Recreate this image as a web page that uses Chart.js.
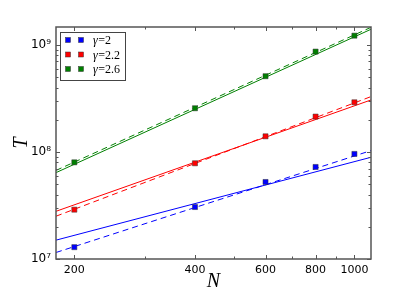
<!DOCTYPE html>
<html><head><meta charset="utf-8">
<script src="https://cdn.jsdelivr.net/npm/chart.js@4/dist/chart.umd.min.js"></script>
<style>html,body{margin:0;padding:0;background:#fff}canvas{display:block}</style>
</head><body>
<canvas id="c" width="399" height="299"></canvas>
<script>
// ---- data ----
const categories = [200, 400, 600, 800, 1000];
const tGamma2  = [1.29e7, 3.06e7, 5.24e7, 7.24e7, 9.58e7];
const tGamma22 = [2.89e7, 7.84e7, 1.40e8, 2.14e8, 2.91e8];
const tGamma26 = [8.0e7, 2.56e8, 5.1e8, 8.66e8, 1.22e9];
// fit lines: values at the two ends of the N range
const fitN = [180, 1100];
const fit2Solid  = [1.50e7, 8.92e7];
const fit2Dashed = [1.15e7, 1.03e8];
const fit22Solid  = [2.79e7, 3.06e8];
const fit22Dashed = [2.51e7, 3.29e8];
const fit26Solid  = [6.41e7, 1.40e9];
const fit26Dashed = [6.72e7, 1.46e9];
const xTicks = [200, 400, 600, 800, 1000];
const yTicks = [1e7, 1e8, 1e9];
const yTickLabels = ['10\u2077', '10\u2078', '10\u2079'];
const seriesLabels = ['2', '2.2', '2.6'];
const colors = ['#0000ff', '#ff0000', '#008000'];

const pts = arr => categories.map((n, i) => ({x: n, y: arr[i]}));
const line = arr => fitN.map((n, i) => ({x: n, y: arr[i]}));

function lineDs(arr, color, dashed) {
  return {type: 'line', data: line(arr), borderColor: color, borderWidth: 1,
    borderDash: dashed ? [6, 4] : [], pointRadius: 0, fill: false, tension: 0, order: 2};
}
function ptDs(arr, color, label) {
  return {type: 'scatter', label: '\u03b3=' + label, data: pts(arr), backgroundColor: color,
    borderColor: '#333', borderWidth: 0.5, pointStyle: 'rect', pointRadius: 3.6, order: 1};
}

const frameAndTicks = {
  id: 'frameAndTicks',
  afterDatasetsDraw(chart) {
    const ctx = chart.ctx, a = chart.chartArea;
    const xs = chart.scales.x, ys = chart.scales.y;
    ctx.save();
    ctx.strokeStyle = '#555';
    ctx.lineWidth = 1;
    const xMinor = [300, 500, 700, 900];
    const drawX = (v, len) => {
      const p = Math.round(xs.getPixelForValue(v)) + 0.5;
      ctx.beginPath();
      ctx.moveTo(p, a.bottom); ctx.lineTo(p, a.bottom - len);
      ctx.moveTo(p, a.top); ctx.lineTo(p, a.top + len);
      ctx.stroke();
    };
    xTicks.forEach(v => drawX(v, 4));
    xMinor.forEach(v => drawX(v, 2.5));
    const drawY = (v, len) => {
      const p = Math.round(ys.getPixelForValue(v)) + 0.5;
      ctx.beginPath();
      ctx.moveTo(a.left, p); ctx.lineTo(a.left + len, p);
      ctx.moveTo(a.right, p); ctx.lineTo(a.right - len, p);
      ctx.stroke();
    };
    yTicks.forEach(v => drawY(v, 4));
    [1e7, 1e8, 1e9].forEach(d => { for (let k = 2; k <= 9; k++) { const v = d * k; if (v <= ys.max) drawY(v, 2.5); } });
    // frame
    ctx.lineWidth = 1.5;
    ctx.strokeStyle = '#555';
    ctx.strokeRect(a.left, a.top, a.right - a.left, a.bottom - a.top);
    // axis titles
    ctx.fillStyle = '#000';
    ctx.font = 'italic 20px "Liberation Serif", "DejaVu Serif", serif';
    ctx.textAlign = 'center'; ctx.textBaseline = 'middle';
    ctx.fillText('N', (a.left + a.right) / 2, 282);
    ctx.save();
    ctx.translate(22, (a.top + a.bottom) / 2);
    ctx.rotate(-Math.PI / 2);
    ctx.fillText('T', 0, 0);
    ctx.restore();
    // legend
    const lx = 60.5, ly = 32.5, lw = 65, lh = 48;
    ctx.fillStyle = '#fff';
    ctx.fillRect(lx, ly, lw, lh);
    ctx.lineWidth = 1;
    ctx.strokeStyle = '#444';
    ctx.strokeRect(lx, ly, lw, lh);
    const rows = [40, 54.5, 69];
    ctx.textAlign = 'left';
    seriesLabels.forEach((lab, i) => {
      [68, 81].forEach(mx => {
        ctx.fillStyle = colors[i];
        ctx.fillRect(mx - 2.5, rows[i] - 2.5, 5, 5);
        ctx.lineWidth = 0.5; ctx.strokeStyle = '#333';
        ctx.strokeRect(mx - 2.5, rows[i] - 2.5, 5, 5);
      });
      ctx.fillStyle = '#000';
      ctx.font = 'italic 12px "Liberation Serif", "DejaVu Serif", serif';
      ctx.fillText('\u03b3', 93, rows[i] + 1);
      const gw = ctx.measureText('\u03b3').width;
      ctx.font = '12px "Liberation Serif", "DejaVu Serif", serif';
      ctx.fillText('=' + lab, 93 + gw + 0.5, rows[i] + 1);
    });
    ctx.restore();
  }
};

new Chart(document.getElementById('c'), {
  data: {
    datasets: [
      lineDs(fit2Solid, colors[0], false), lineDs(fit2Dashed, colors[0], true),
      lineDs(fit22Solid, colors[1], false), lineDs(fit22Dashed, colors[1], true),
      lineDs(fit26Solid, colors[2], false), lineDs(fit26Dashed, colors[2], true),
      ptDs(tGamma2, colors[0], seriesLabels[0]),
      ptDs(tGamma22, colors[1], seriesLabels[1]),
      ptDs(tGamma26, colors[2], seriesLabels[2])
    ]
  },
  options: {
    responsive: false, animation: false,
    layout: {padding: {top: 27, right: 28, left: 0, bottom: 0}},
    plugins: {legend: {display: false}, tooltip: {enabled: false}},
    scales: {
      x: {
        type: 'logarithmic', min: 180, max: 1100,
        grid: {display: false, drawTicks: false}, border: {display: false},
        afterBuildTicks: s => { s.ticks = xTicks.map(v => ({value: v})); },
        afterFit: s => { s.height = 40; },
        ticks: {autoSkip: false, maxRotation: 0, padding: 5, color: '#000',
          font: {family: '"DejaVu Sans", sans-serif', size: 11},
          callback: v => String(v)}
      },
      y: {
        type: 'logarithmic', min: 1e7, max: 1.47e9,
        grid: {display: false, drawTicks: false}, border: {display: false},
        afterBuildTicks: s => { s.ticks = yTicks.map(v => ({value: v})); },
        afterFit: s => { s.width = 56; },
        ticks: {autoSkip: false, padding: 5, color: '#000',
          font: {family: '"DejaVu Sans", sans-serif', size: 12},
          callback: v => yTickLabels[yTicks.indexOf(v)] ?? ''}
      }
    }
  },
  plugins: [frameAndTicks]
});
</script>
</body></html>
